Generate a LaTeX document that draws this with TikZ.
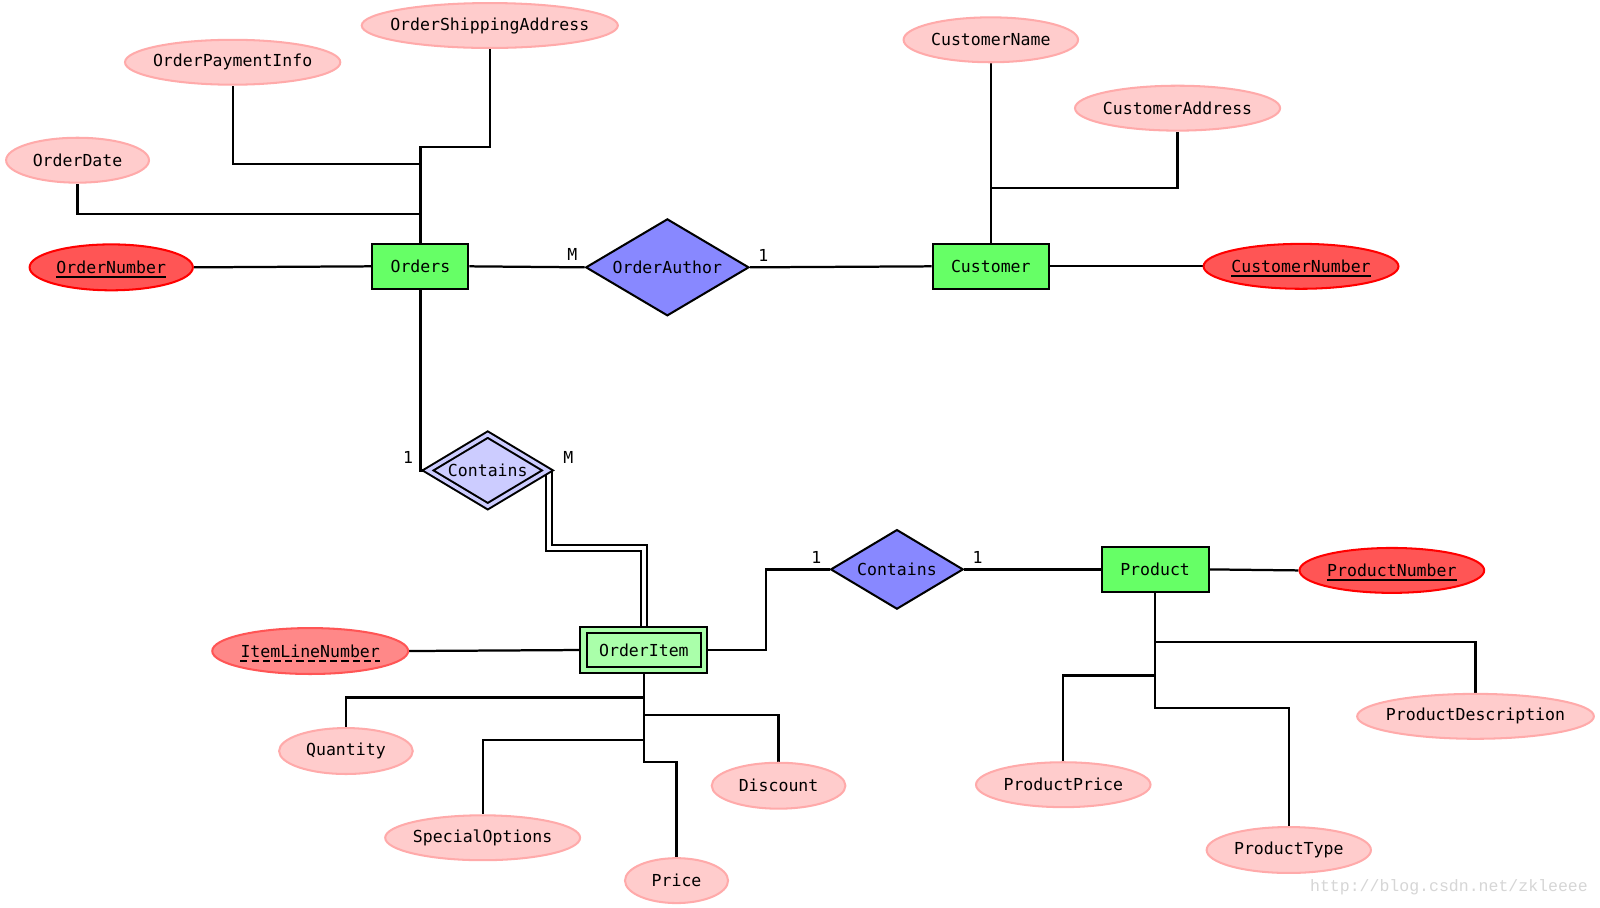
\documentclass[tikz,border=0pt]{standalone}
\usepackage{fontspec}
\setmainfont{DejaVu Sans Mono}
\newfontfamily\wmfont{Liberation Mono}
\usetikzlibrary{shapes.geometric,backgrounds}
\definecolor{attrfill}{HTML}{FFCCCC}
\definecolor{attrline}{HTML}{FFAAAA}
\definecolor{keyfill}{HTML}{FF5555}
\definecolor{pkfill}{HTML}{FF8888}
\definecolor{entfill}{HTML}{66FF66}
\definecolor{wentfill}{HTML}{AAFFAA}
\definecolor{relfill}{HTML}{8888FF}
\definecolor{wrelfill}{HTML}{CCCCFF}
\definecolor{wmgray}{HTML}{D6D6D6}
\tikzset{
  attr/.style={ellipse, draw=attrline, fill=attrfill, line width=2pt, inner sep=0pt},
  keyattr/.style={attr, draw=red, fill=keyfill},
  pkeyattr/.style={attr, draw=keyfill, fill=pkfill},
  entity/.style={rectangle, draw=black, fill=entfill, line width=2pt, inner sep=0pt},
  wentity/.style={rectangle, draw=black, fill=wentfill, line width=2pt, double=wentfill, double distance=4.4pt, inner sep=0pt},
  rel/.style={diamond, draw=black, fill=relfill, line width=2pt, inner sep=0pt},
  wrel/.style={diamond, draw=black, fill=wrelfill, line width=2pt, double=wrelfill, double distance=3.4pt, inner sep=0pt},
  txt/.style={label={[inner sep=0pt]center:#1}},
  conn/.style={line width=2.2pt},
  dconn/.style={line width=2pt, double=white, double distance=4pt},
  card/.style={inner sep=0pt},
  keytext/.style={inner sep=0pt},
  uline/.style={line width=2pt},
  dline/.style={line width=2pt, dash pattern=on 7pt off 4pt},
}
\begin{document}
\begin{tikzpicture}[x=1pt,y=-1pt, font=\fontsize{16.2}{19}\selectfont]
\useasboundingbox (0,0) rectangle (1568,889);
\begin{scope}[on background layer]
  \fill[white] (0,0) rectangle (1568,889);
\end{scope}
% Orders side
\node[attr, minimum width=251, minimum height=44, txt=OrderShippingAddress] (OSA) at (480,25) {};
\node[attr, minimum width=211, minimum height=44, txt=OrderPaymentInfo] (OPI) at (228,61) {};
\node[attr, minimum width=140, minimum height=44, txt=OrderDate] (OD) at (76,157) {};
\node[keyattr, minimum width=160, minimum height=45] (ON) at (109,262) {};
\node[keytext] (ONt) at (ON) {OrderNumber};
\node[entity, minimum width=94, minimum height=44] (Orders) at (412,261) {Orders};
\node[rel, minimum width=160, minimum height=95, txt=OrderAuthor] (OA) at (654,262) {};
% Customer side
\node[entity, minimum width=114, minimum height=44] (Cust) at (971,261) {Customer};
\node[attr, minimum width=171, minimum height=44, txt=CustomerName] (CN) at (971,39) {};
\node[attr, minimum width=201, minimum height=44, txt=CustomerAddress] (CA) at (1154,106) {};
\node[keyattr, minimum width=191, minimum height=44] (CNum) at (1275,261) {};
\node[keytext] (CNumt) at (CNum) {CustomerNumber};
% Contains / OrderItem
\node[wrel, minimum width=118, minimum height=71, txt=Contains] (C1) at (478,461) {};
\node[wentity, minimum width=118, minimum height=39] (OI) at (631,637) {OrderItem};
\node[pkeyattr, minimum width=192, minimum height=45] (ILN) at (304,638) {};
\node[keytext] (ILNt) at (ILN) {ItemLineNumber};
\node[attr, minimum width=131, minimum height=45, txt=Quantity] (Qty) at (339,736) {};
\node[attr, minimum width=191, minimum height=44, txt=SpecialOptions] (SO) at (473,821) {};
\node[attr, minimum width=101, minimum height=44, txt=Price] (Price) at (663,863) {};
\node[attr, minimum width=131, minimum height=45, txt=Discount] (Disc) at (763,770) {};
% Product side
\node[rel, minimum width=130, minimum height=78, txt=Contains] (C2) at (879,558) {};
\node[entity, minimum width=105, minimum height=44] (Prod) at (1132,558) {Product};
\node[keyattr, minimum width=181, minimum height=44] (PN) at (1364,559) {};
\node[keytext] (PNt) at (PN) {ProductNumber};
\node[attr, minimum width=171, minimum height=44, txt=ProductPrice] (PP) at (1042,769) {};
\node[attr, minimum width=161, minimum height=45, txt=ProductType] (PT) at (1263,833) {};
\node[attr, minimum width=232, minimum height=44, txt=ProductDescription] (PD) at (1446,702) {};
% underlines of keys
\draw[uline] ([yshift=-3.5pt]ONt.base west) -- ([yshift=-3.5pt]ONt.base east);
\draw[uline] ([yshift=-3.5pt]CNumt.base west) -- ([yshift=-3.5pt]CNumt.base east);
\draw[uline] ([yshift=-3.5pt]PNt.base west) -- ([yshift=-3.5pt]PNt.base east);
\draw[dline] ([yshift=-3.5pt]ILNt.base west) -- ([yshift=-3.5pt]ILNt.base east);
% cardinalities
\node[card] (m1) at (561,249) {M};
\node[card] (o1) at (748,250) {1};
\node[card] (o2) at (400,448) {1};
\node[card] (m2) at (557,448) {M};
\node[card] (o3) at (800,546) {1};
\node[card] (o4) at (958,546) {1};
% watermark
\node[card, text=wmgray, font=\wmfont\fontsize{16.2}{19}\selectfont] (wm) at (1420,869) {http://blog.csdn.net/zkleeee};
% connectors
\begin{scope}[on background layer]
  \draw[conn] (Orders.north) -- ++(0,-28) -| (OD.south);
  \draw[conn] (Orders.north) -- ++(0,-77) -| (OPI.south);
  \draw[conn] (Orders.north) -- ++(0,-94) -| (OSA.south);
  \draw[conn] (ON.east) -- (Orders.west);
  \draw[conn] (Orders.east) -- (OA.west);
  \draw[conn] (OA.east) -- (Cust.west);
  \draw[conn] (Cust.north) -- (CN.south);
  \draw[conn] (Cust.north) -- ++(0,-54) -| (CA.south);
  \draw[conn] (Cust.east) -- (CNum.west);
  \draw[conn] (Orders.south) |- (C1.west);
  \draw[dconn] (C1.east) -- ++(0,76) -| (OI.north);
  \draw[conn] (ILN.east) -- (OI.west);
  \draw[conn] (OI.east) -- ++(60,0) |- (C2.west);
  \draw[conn] (C2.east) -- (Prod.west);
  \draw[conn] (Prod.east) -- (PN.west);
  \draw[conn] (Prod.south) -- ++(0,48) -| (PD.north);
  \draw[conn] (Prod.south) -- ++(0,81) -| (PP.north);
  \draw[conn] (Prod.south) -- ++(0,113) -| (PT.north);
  \draw[conn] (OI.south) -- ++(0,26) -| (Qty.north);
  \draw[conn] (OI.south) -- ++(0,43) -| (Disc.north);
  \draw[conn] (OI.south) -- ++(0,68) -| (SO.north);
  \draw[conn] (OI.south) -- ++(0,89) -| (Price.north);
\end{scope}
\end{tikzpicture}
\end{document}
